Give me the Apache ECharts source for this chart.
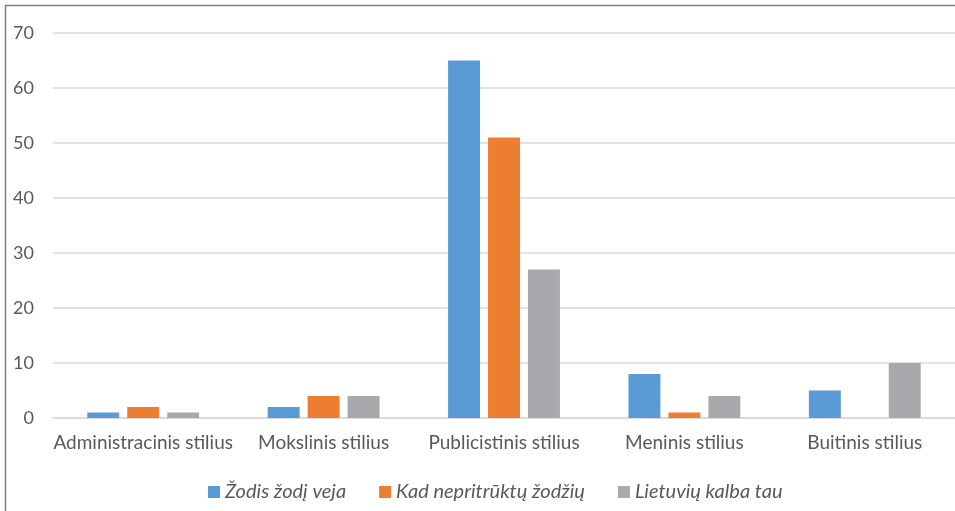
<!DOCTYPE html>
<html>
<head>
<meta charset="utf-8">
<script src="https://cdn.jsdelivr.net/npm/echarts@6/dist/echarts.min.js"></script>
<style>
  html, body { margin: 0; padding: 0; background: #ffffff; }
  #chart { width: 955px; height: 511px; }
</style>
</head>
<body>
<div id="chart"></div>
<script>
// Stiliaus kategorijos (x ašis)
const categories = ['Administracinis stilius', 'Mokslinis stilius', 'Publicistinis stilius', 'Meninis stilius', 'Buitinis stilius'];

// Serijų pavadinimai
const seriesNames = ['Žodis žodį veja', 'Kad nepritrūktų žodžių', 'Lietuvių kalba tau'];

// Reikšmės pagal kategorijas
const zodisZodiVeja = [1, 2, 65, 8, 5];
const kadNepritruktuZodziu = [2, 4, 51, 1, 0];
const lietuviuKalbaTau = [1, 4, 27, 4, 10];

// Y ašies ribos
const yMin = 0;
const yMax = 70;
const yStep = 10;

const colors = ['#5B9BD5', '#ED7D31', '#A9A9AD'];
const textColor = '#595959';
const fontFamily = 'Lato, "Open Sans", sans-serif';

const chart = echarts.init(document.getElementById('chart'), null, { renderer: 'canvas' });

const values = [zodisZodiVeja, kadNepritruktuZodziu, lietuviuKalbaTau];

chart.setOption({
  animation: false,
  backgroundColor: '#ffffff',
  color: colors,
  textStyle: { fontFamily: fontFamily },
  grid: { left: 53, top: 33, width: 904, bottom: 93, containLabel: false },
  legend: {
    top: 477,
    left: 203,
    itemWidth: 12,
    itemHeight: 12,
    itemGap: 33,
    icon: 'rect',
    textStyle: { color: textColor, fontSize: 20, fontStyle: 'italic', fontFamily: fontFamily },
    data: seriesNames
  },
  xAxis: {
    type: 'category',
    data: categories,
    axisLine: { show: true, lineStyle: { color: '#D9D9D9', width: 1.5 } },
    axisTick: { show: false },
    axisLabel: { color: textColor, fontSize: 19, margin: 15, interval: 0 }
  },
  yAxis: {
    type: 'value',
    min: yMin,
    max: yMax,
    interval: yStep,
    axisLine: { show: false },
    axisTick: { show: false },
    axisLabel: { color: textColor, fontSize: 18, margin: 19 },
    splitLine: { lineStyle: { color: '#D9D9D9', width: 1.5 } }
  },
  series: seriesNames.map((name, i) => ({
    name: name,
    type: 'bar',
    data: values[i],
    barGap: '25%',
    barCategoryGap: '38%'
  })),
  graphic: [
    {
      type: 'polyline',
      silent: true,
      shape: { points: [[5.5, 511], [5.5, 5.5], [955, 5.5]] },
      style: { stroke: '#7F7F7F', lineWidth: 1.5, fill: null }
    }
  ]
});
</script>
</body>
</html>
